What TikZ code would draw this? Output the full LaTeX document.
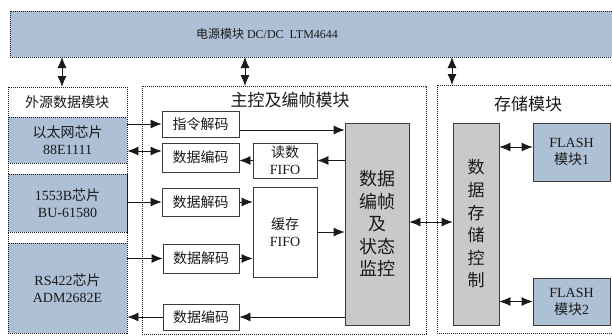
\documentclass[tikz,border=0pt]{standalone}
\usepackage{fontspec}
\setmainfont{Liberation Serif}
\newfontfamily\cjk{Noto Sans CJK SC}
\usetikzlibrary{arrows.meta}
\definecolor{bluef}{HTML}{AEC0D6}
\definecolor{grayf}{HTML}{C9C9C9}
\definecolor{ink}{HTML}{1A1A1A}
\tikzset{
  dsh/.style={draw=ink, line width=0.9pt, dash pattern=on 1.2pt off 0.8pt},
  sbox/.style={draw=ink!85, line width=0.8pt, inner sep=0pt, align=center, text=ink},
  bbox/.style={dsh, fill=bluef, inner sep=0pt, align=center, text=ink},
  arr/.style={-{Latex[length=11pt,width=9pt]}, line width=0.8pt, draw=ink},
  darr/.style={{Latex[length=11pt,width=9pt]}-{Latex[length=11pt,width=9pt]}, line width=0.8pt, draw=ink},
}
\begin{document}
\begin{tikzpicture}[x=1pt,y=-1pt]
\useasboundingbox (0,0) rectangle (612,335);
% power box
\draw[dsh, fill=bluef] (10,11) rectangle (620,57);
\node[text=ink, font=\fontsize{12}{14}\selectfont] (pwr) at (267,34) {{\cjk 电源模块} DC/DC\ \ LTM4644};
\coordinate (p1) at (62,57);
\coordinate (p2) at (245,57);
\coordinate (p3) at (452,57);
% external module
\draw[dsh] (8,87) rectangle (127,333);
\node[text=ink, font=\cjk\fontsize{14}{16}\selectfont] (exttitle) at (67,102) {外源数据模块};
\coordinate (extTop) at (62,87);
\node[bbox, minimum width=119, minimum height=46, font=\fontsize{14}{17}\selectfont] (eth) at (67.5,140) {{\cjk 以太网芯片}\\88E1111};
\node[bbox, minimum width=119, minimum height=58, font=\fontsize{14}{17}\selectfont] (mil) at (67.5,203) {1553B{\cjk 芯片}\\BU-61580};
\node[bbox, minimum width=119, minimum height=90, font=\fontsize{14}{17}\selectfont] (rs) at (67.5,288) {RS422{\cjk 芯片}\\ADM2682E};
% main module
\draw[dsh] (142,86) rectangle (426,334);
\node[text=ink, font=\cjk\fontsize{17}{19}\selectfont] (maintitle) at (290,100) {主控及编帧模块};
\coordinate (mainTop) at (245,86);
\tikzset{cf/.style={font=\cjk\fontsize{14}{16}\selectfont}}
\node[sbox, cf, minimum width=77, minimum height=26] (zl) at (200.5,124) {指令解码};
\node[sbox, cf, minimum width=77, minimum height=29] (bm1) at (200.5,157.5) {数据编码};
\node[sbox, font=\fontsize{14}{17}\selectfont, minimum width=64, minimum height=35] (dfifo) at (285,160.5) {{\cjk 读数}\\FIFO};
\node[sbox, cf, minimum width=77, minimum height=28] (jm1) at (200.5,202) {数据解码};
\node[sbox, font=\fontsize{14}{17}\selectfont, minimum width=64, minimum height=90] (hfifo) at (285,232) {{\cjk 缓存}\\FIFO};
\node[sbox, cf, minimum width=76, minimum height=29] (jm2) at (201,258.5) {数据解码};
\node[sbox, cf, minimum width=76, minimum height=26] (bm2) at (201,317) {数据编码};
\node[sbox, fill=grayf, minimum width=64, minimum height=202, font=\cjk\fontsize{18}{22.5}\selectfont] (mon) at (377,224) {数据\\编帧\\及\\状态\\监控};
% storage module
\draw[dsh] (437,85) rectangle (620,333);
\node[text=ink, font=\cjk\fontsize{17}{19}\selectfont] (sttitle) at (528,104) {存储模块};
\coordinate (stTop) at (452,85);
\node[sbox, fill=grayf, minimum width=46, minimum height=202, font=\cjk\fontsize{17}{22.6}\selectfont] (sc) at (476,224) {数\\据\\存\\储\\控\\制};
\node[sbox, fill=bluef, minimum width=77, minimum height=58, font=\fontsize{14}{17}\selectfont] (f1) at (571.5,152) {FLASH\\{\cjk 模块}1};
\node[sbox, fill=bluef, minimum width=77, minimum height=47, font=\fontsize{14}{17}\selectfont] (f2) at (571.5,301.5) {FLASH\\{\cjk 模块}2};
% vertical power arrows
\draw[darr] (p1) -- (extTop);
\draw[darr] (p2) -- (mainTop);
\draw[darr] (p3) -- (stTop);
% external <-> main
\draw[arr] (eth.east |- zl.west) -- (zl.west);
\draw[darr] (eth.east |- 0,151) -- (bm1.west |- 0,151);
\draw[arr] (mil.east |- jm1.west) -- (jm1.west);
\draw[arr] (rs.east |- jm2.west) -- (jm2.west);
\draw[arr] (bm2.west) -- (rs.east |- bm2.west);
% main internals
\draw[arr] (zl.east |- 0,130) -- (mon.west |- 0,130);
\draw[arr] (mon.west |- dfifo.east) -- (dfifo.east);
\draw[arr] (dfifo.west) -- (bm1.east |- dfifo.west);
\draw[arr] (jm1.east) -- (hfifo.west |- jm1.east);
\draw[arr] (jm2.east) -- (hfifo.west |- jm2.east);
\draw[arr] (hfifo.east) -- (mon.west |- hfifo.east);
\draw[arr] (mon.west |- bm2.east) -- (bm2.east);
% main <-> storage
\draw[darr] (mon.east |- 0,222) -- (sc.west |- 0,222);
\draw[darr] (sc.east |- 0,147) -- (f1.west |- 0,147);
\draw[darr] (sc.east |- f2.west) -- (f2.west);
\end{tikzpicture}
\end{document}
